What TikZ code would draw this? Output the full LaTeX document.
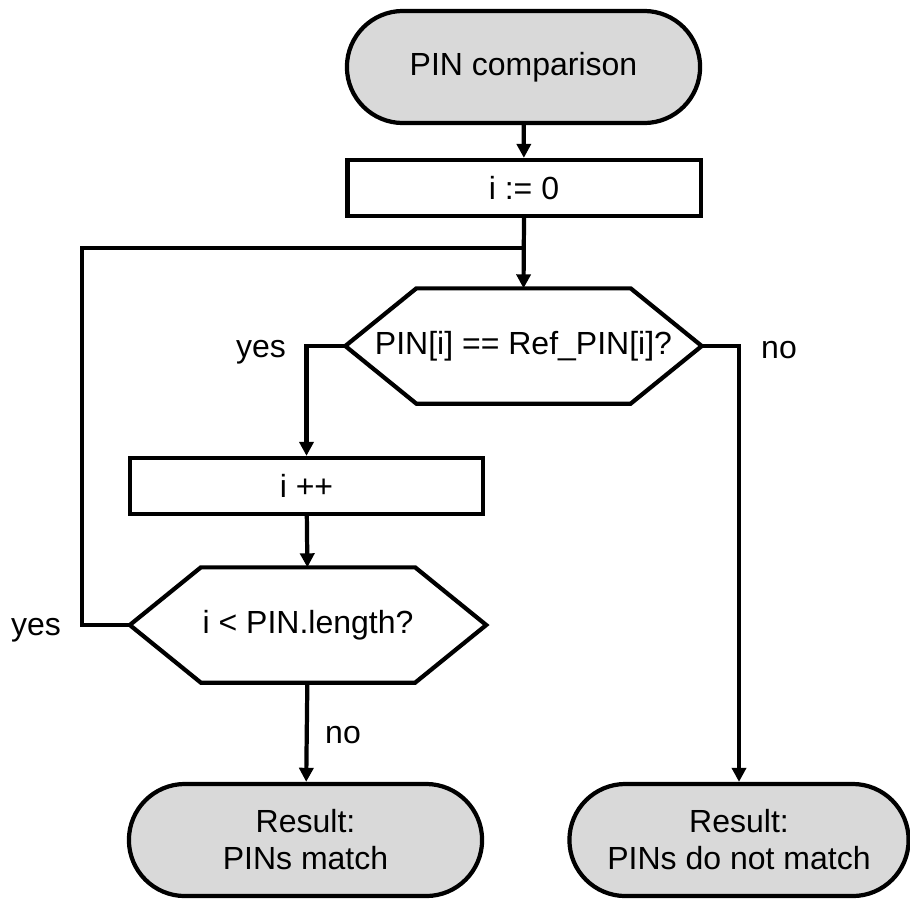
\documentclass[tikz,border=0pt]{standalone}
\usepackage{fontspec}
\setmainfont{Liberation Sans}
\usetikzlibrary{shapes.misc,arrows.meta}
\definecolor{termgray}{RGB}{217,217,217}
\tikzset{
  terminal/.style={draw, fill=termgray, rounded rectangle, minimum width=3.53cm,
    minimum height=1.12cm, align=center, inner sep=0pt},
  process/.style={draw, rectangle, minimum width=3.53cm, minimum height=0.56cm, inner sep=0pt},
  decision/.style={rectangle, minimum width=3.52cm, minimum height=1.11cm, inner sep=0pt},
  lbl/.style={inner sep=0pt, anchor=base},
  flow/.style={-{Triangle[length=4pt,width=4pt]}},
}
% six-sided frame round a decision node
\newcommand{\hexframe}[1]{%
  \draw (#1.west) -- ([xshift=0.71cm]#1.north west) -- ([xshift=-0.71cm]#1.north east)
    -- (#1.east) -- ([xshift=-0.71cm]#1.south east) -- ([xshift=0.71cm]#1.south west) -- cycle;}
\begin{document}
\begin{tikzpicture}[x=0.01cm, y=-0.01cm, line width=1.2pt, font=\fontsize{9.1}{10.5}\selectfont]
	\useasboundingbox (0,0) rectangle (910,900);
	
	\node[terminal] (start) at (523.5,67) {PIN comparison};
	\node[process] (init) at (524,188) {i := 0};
	\node[decision] (cmp) at (523.5,346) {PIN[i] == Ref\_PIN[i]?};
	\hexframe{cmp}
	\node[process] (inc) at (306.5,486) {i ++};
	\node[decision] (chk) at (308,625) {i < PIN.length?};
	\hexframe{chk}
	\node[terminal] (res1) at (305.5,840) {Result:\\PINs match};
	\node[terminal, minimum width=3.39cm] (res2) at (739,840) {Result:\\PINs do not match};
	
	\coordinate (join) at (524,248);
	\coordinate (loop) at (82,248);
	
	\draw[flow] (start) -- (init);
	\draw[flow] (init.south) -- (cmp.north);
	\draw[flow] (cmp.west) -| (inc.north);
	\draw[flow] (cmp.east) -| (res2.north);
	\draw[flow] (inc) -- (chk);
	\draw (chk.west) -| (loop) -- (join);
	\draw[flow] (chk) -- (res1);
	
	\node[lbl] (yes1) at (261,357) {yes};
	\node[lbl] (no1) at (779,358) {no};
	\node[lbl] (yes2) at (36,635) {yes};
	\node[lbl] (no2) at (343,743) {no};
\end{tikzpicture}
\end{document}
